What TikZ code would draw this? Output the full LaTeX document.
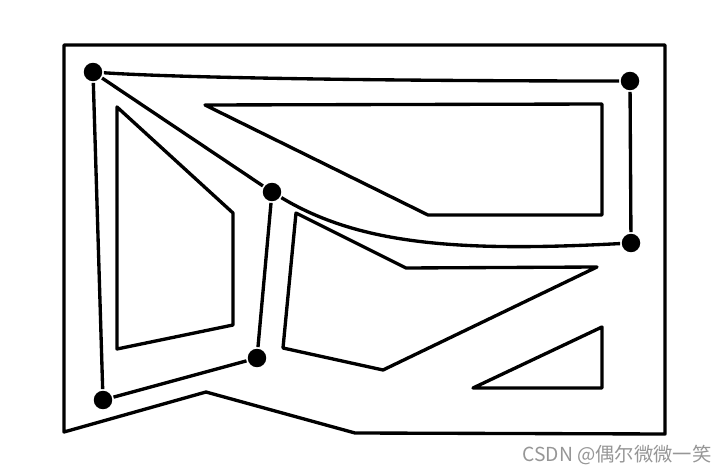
\documentclass[tikz,border=0pt]{standalone}
\usepackage{fontspec}
\newfontfamily\cjkfont{Noto Sans CJK SC}
\definecolor{markgray}{RGB}{150,150,150}

\tikzset{
	mappicture/.style = {
		x = 0.02cm,
		y = -0.02cm,
		line width = 1.9pt,
		line join = round,
		edge/.style = {
			draw,
		}
	},
	vertex/.style = {
		circle,
		fill = black,
		inner sep = 0pt,
		minimum size = 0.37cm
	},
	wall/.style = {
		draw = black
	},
	watermark/.style = {
		text = markgray,
		font = \cjkfont\fontsize{11}{12}\selectfont
	}
}

\begin{document}
\begin{tikzpicture}[mappicture]
	\useasboundingbox (0,0) rectangle (728,473);

	\draw[wall] (64,45) -- (665,45) -- (665,434) -- (355,433) -- (206,392) -- (64,432) -- cycle;

	\draw[wall] (117,107) -- (233,213) -- (233,325) -- (117,349) -- cycle;
	\draw[wall] (205,105) -- (602,104) -- (602,215) -- (428,215) -- cycle;
	\draw[wall] (296,213) -- (406,268) -- (597,267) -- (383,370) -- (283,348) -- cycle;
	\draw[wall] (473,388) -- (602,327) -- (602,388) -- cycle;

	\node[vertex] (A) at (93,72) {};
	\node[vertex] (B) at (630,81) {};
	\node[vertex] (C) at (631,243) {};
	\node[vertex] (D) at (272,192) {};
	\node[vertex] (E) at (257,358) {};
	\node[vertex] (F) at (103,400) {};

	\begin{scope}[every path/.style = edge]
		\path (A) .. controls (180,78) and (400,81) .. (B);
		\path (B) -- (C);
		\path (D) .. controls (360,245) and (460,252) .. (C);
		\path (A) -- (D);
		\path (A) -- (F);
		\path (D) -- (E);
		\path (E) -- (F);
	\end{scope}

	\node[watermark] (wm) at (617,455) {CSDN @偶尔微微一笑};
\end{tikzpicture}
\end{document}
